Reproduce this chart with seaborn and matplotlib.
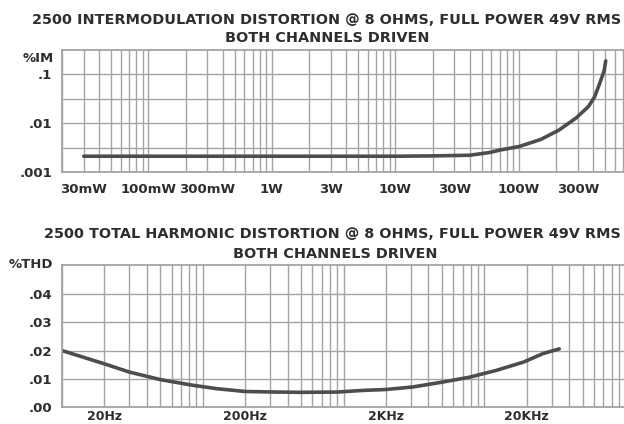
import matplotlib
matplotlib.use("Agg")
import matplotlib.pyplot as plt
import seaborn as sns
import pandas as pd

# intermodulation distortion vs output power (top chart)
power_w = [0.03, 0.1, 0.3, 1, 3, 10, 20, 40, 58, 70, 100, 150, 210, 290, 365, 410, 450, 490, 505]
im_pct = [0.0021, 0.0021, 0.0021, 0.0021, 0.0021, 0.0021, 0.00213, 0.0022, 0.0025, 0.0028,
          0.0033, 0.0046, 0.0071, 0.0126, 0.0215, 0.034, 0.063, 0.116, 0.185]
power_ticks = [0.03, 0.1, 0.3, 1, 3, 10, 30, 100, 300]
power_labels = ["30mW", "100mW", "300mW", "1W", "3W", "10W", "30W", "100W", "300W"]
im_ticks = [0.001, 0.01, 0.1]
im_labels = [".001", ".01", ".1"]

# total harmonic distortion vs frequency (bottom chart)
freq_hz = [10, 20, 30, 50, 85, 125, 200, 330, 500, 900, 1400, 2000, 3100, 5000, 7900,
           12200, 18900, 26000, 34000]
thd_pct = [0.020, 0.0153, 0.0124, 0.0097, 0.0077, 0.0065, 0.0055, 0.0053, 0.0052, 0.0053,
           0.0059, 0.0062, 0.0071, 0.0088, 0.0106, 0.013, 0.0159, 0.0189, 0.0206]
freq_ticks = [20, 200, 2000, 20000]
freq_labels = ["20Hz", "200Hz", "2KHz", "20KHz"]
thd_ticks = [0, 0.01, 0.02, 0.03, 0.04]
thd_labels = [".00", ".01", ".02", ".03", ".04"]

im_title = "2500 INTERMODULATION DISTORTION @ 8 OHMS, FULL POWER 49V RMS"
thd_title = "2500 TOTAL HARMONIC DISTORTION @ 8 OHMS, FULL POWER 49V RMS"
sub_title = "BOTH CHANNELS DRIVEN"

sns.set_style("white")
plt.rcParams["font.family"] = ["DejaVu Sans"]

ink = "#2e2e2e"
grid_c = "#a4a4a4"
curve_c = "#4d4d4d"
W, H = 624, 424

fig = plt.figure(figsize=(6.24, 4.24), dpi=100)
ax1 = fig.add_axes([62 / W, 1 - 172 / H, 1 - 62 / W, (172 - 49.5) / H])
ax2 = fig.add_axes([62 / W, 1 - 407 / H, 1 - 62 / W, (407 - 264.5) / H])


def log_grid(lo_dec, hi_dec):
    # every 1..9 line of each decade, like log graph paper
    return [m * 10.0 ** d for d in range(lo_dec, hi_dec) for m in range(1, 10)]


def style(ax):
    for side in ["left", "top", "bottom"]:
        ax.spines[side].set_color(grid_c)
        ax.spines[side].set_linewidth(1.3)
    ax.spines["right"].set_visible(False)
    ax.grid(which="both", color=grid_c, lw=1.0)
    ax.tick_params(which="both", length=0, colors=ink, labelsize=9.5)
    for lab in ax.get_xticklabels() + ax.get_yticklabels():
        lab.set_fontweight("bold")
    ax.set_xlabel("")
    ax.set_ylabel("")


# top chart
im_df = pd.DataFrame({"power": power_w, "im": im_pct})
sns.lineplot(data=im_df, x="power", y="im", ax=ax1, color=curve_c, lw=2.6)
ax1.set_xscale("log")
ax1.set_yscale("log")
ax1.set_xlim(0.02, 710)
ax1.set_ylim(0.001, 10 ** -0.5)
ax1.set_xticks(power_ticks, power_labels)
ax1.set_xticks([v for v in log_grid(-2, 3) if 0.02 <= v <= 710 and v not in power_ticks], minor=True)
ax1.set_yticks(im_ticks, im_labels)
ax1.set_yticks([10 ** -2.5, 10 ** -1.5], minor=True)
ax1.xaxis.set_minor_formatter(plt.NullFormatter())
ax1.yaxis.set_minor_formatter(plt.NullFormatter())
ax1.tick_params(axis="x", pad=8)
ax1.tick_params(axis="y", pad=7)
style(ax1)
ax1.text(-0.015, 0.93, "%IM", transform=ax1.transAxes, ha="right", va="center",
         fontsize=9.5, fontweight="bold", color=ink)

# bottom chart
thd_df = pd.DataFrame({"freq": freq_hz, "thd": thd_pct})
sns.lineplot(data=thd_df, x="freq", y="thd", ax=ax2, color=curve_c, lw=2.6)
ax2.set_xscale("log")
ax2.set_xlim(10, 98000)
ax2.set_ylim(0, 0.0505)
ax2.set_xticks(freq_ticks, freq_labels)
ax2.set_xticks([v for v in log_grid(1, 5) if v not in freq_ticks], minor=True)
ax2.set_yticks(thd_ticks, thd_labels)
ax2.xaxis.set_minor_formatter(plt.NullFormatter())
ax2.tick_params(axis="x", pad=2.5)
ax2.tick_params(axis="y", pad=7)
style(ax2)
ax2.tick_params(axis="x", labelsize=9)
ax2.text(-0.015, 1.0, "%THD", transform=ax2.transAxes, ha="right", va="center",
         fontsize=9.5, fontweight="bold", color=ink)

# titles
fig.text(327 / W, 1 - 19.5 / H, im_title, ha="center", va="center", fontsize=10.4,
         fontweight="bold", color=ink)
fig.text(327 / W, 1 - 38.5 / H, sub_title, ha="center", va="center", fontsize=10.4,
         fontweight="bold", color=ink)
fig.text(332 / W, 1 - 234 / H, thd_title, ha="center", va="center", fontsize=10.4,
         fontweight="bold", color=ink)
fig.text(335 / W, 1 - 254.5 / H, sub_title, ha="center", va="center", fontsize=10.4,
         fontweight="bold", color=ink)

fig.savefig("out.png", dpi=100, facecolor="white")
